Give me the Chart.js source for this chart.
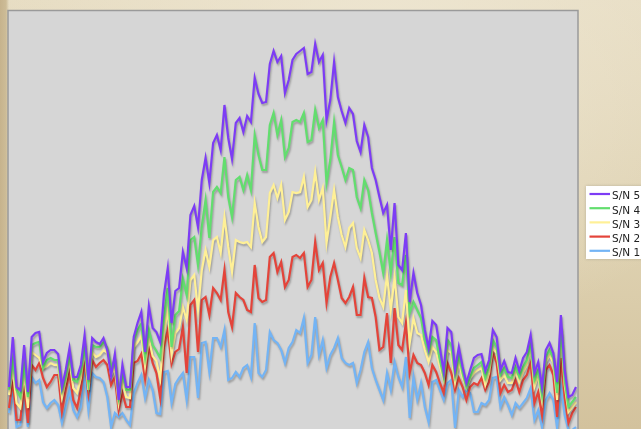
<!DOCTYPE html>
<html>
<head>
<meta charset="utf-8">
<script src="https://cdn.jsdelivr.net/npm/chart.js@4.4.0/dist/chart.umd.min.js"></script>
<style>
  html, body { margin: 0; padding: 0; width: 641px; height: 429px; overflow: hidden; }
  body {
    background-color: #e2d6b8;
    background-image:
      linear-gradient(to right, #c6b38d 0px, #cdbc97 6px, rgba(226,214,184,0) 9px),
      radial-gradient(ellipse 60% 70% at 60% 10%, rgba(238,230,210,0.9) 0%, rgba(238,230,210,0) 100%),
      linear-gradient(to bottom, #e7ddc3 0%, #ddd0af 60%, #d3c29d 100%);
  }
  canvas { display: block; }
</style>
</head>
<body>
<canvas id="chart" width="641" height="429"></canvas>
<script>
// Sample positions along the scan (151 samples)
const samples = Array.from({ length: 151 }, (_, i) => i);

const seriesNames = ['S/N 5', 'S/N 4', 'S/N 3', 'S/N 2', 'S/N 1'];
const seriesColors = ['#7d3cf5', '#62de6e', '#fff096', '#e4443a', '#73b4f5'];

const sn5 = [42,92,42,39,84,37,92,96,97,67, 76,79,79,75,42,59,81,52,52,64,
  94,49,91,87,85,91,79,53,75,29, 64,42,42,92,106,117,77,123,101,97,
  87,135,161,106,138,141,177,161,214,223, 202,249,271,246,286,294,279,324,291,270,
  306,311,297,313,307,351,335,326,327,365, 378,367,373,336,349,369,375,378,381,355,
  357,385,367,374,309,329,367,332,318,306, 321,315,288,277,304,292,261,249,232,216,
  224,179,226,164,159,196,127,156,136,124, 99,81,108,104,81,57,101,97,59,82,
  62,46,59,71,74,75,58,69,99,92, 59,68,57,56,71,58,71,77,94,56,
  67,42,79,86,76,47,114,59,32,34, 42];

const sn4 = [39,69,39,32,64,32,84,86,87,61, 69,71,69,69,39,52,74,49,47,57,
  82,46,84,82,82,87,81,62,69,32, 56,39,39,89,99,105,72,99,84,78,
  71,112,141,82,114,118,150,134,189,192, 164,202,229,191,237,242,236,272,232,212,
  249,252,239,254,239,294,274,259,259,304, 316,294,309,272,281,307,309,307,316,287,
  289,319,301,309,246,269,307,274,262,249, 261,259,232,221,249,239,216,196,177,156,
  189,156,192,146,144,174,116,127,119,111, 89,77,92,89,69,52,89,84,54,74,
  56,42,52,61,64,67,51,62,89,82, 54,61,52,51,62,52,62,69,86,49,
  59,34,72,79,71,36,102,49,22,27, 32];

const sn3 = [34,59,26,21,54,21,77,74,71,61, 63,66,64,64,32,49,69,41,36,51,
  79,39,77,72,74,79,76,54,61,26, 47,32,31,82,87,93,63,90,73,68,
  50,96,119,74,96,101,122,109,149,154, 119,159,179,162,189,192,176,212,182,157,
  189,187,186,187,182,226,202,187,192,236, 244,231,244,209,217,237,236,237,252,222,
  229,257,229,241,186,212,239,212,194,182, 201,206,181,171,199,189,176,149,131,122,
  154,119,152,112,106,139,86,111,96,94, 79,67,82,77,62,49,79,76,47,67,
  51,41,51,56,59,61,44,56,81,76, 49,54,46,46,57,47,57,64,81,42,
  54,29,67,74,66,29,96,44,17,22, 27];

const sn2 = [21,49,9,9,42,6,64,59,66,51, 42,47,54,54,17,39,56,29,21,39,
  69,36,69,62,66,69,64,44,52,19, 36,22,22,66,68,75,50,83,66,56,
  31,82,99,65,77,80,102,56,124,129, 77,129,132,114,141,136,129,159,117,102,
  136,132,129,119,117,164,131,127,129,172, 176,157,167,142,149,172,174,171,176,142,
  149,187,159,166,126,152,166,149,131,126, 132,142,114,114,151,132,131,112,79,82,
  116,66,121,84,79,106,56,74,66,64, 56,44,64,57,46,36,66,56,39,51,
  42,29,42,46,44,51,39,47,77,66, 36,44,37,39,49,37,49,54,66,26,
  37,14,59,64,54,12,71,32,6,16, 22];

const sn1 = [16,39,2,4,36,2,52,46,49,27, 21,26,29,24,6,22,39,19,12,22,
  56,19,56,52,51,47,32,2,16,12, 16,9,4,36,46,54,31,49,39,16,
  15,57,58,26,45,51,56,29,72,72, 31,86,87,57,91,91,82,99,49,51,
  57,52,61,64,52,106,56,52,59,97, 89,86,79,66,81,87,99,96,111,66,
  74,112,74,89,61,74,81,91,71,66, 64,66,46,59,77,87,61,49,39,29,
  56,39,67,52,42,72,11,52,29,46, 22,7,47,49,39,29,46,49,1,39,
  32,39,36,17,17,26,24,29,51,52, 22,32,24,14,26,21,26,31,41,9,
  19,2,29,36,29,1,42,14,-1,-1, 2];

const seriesValues = [sn5, sn4, sn3, sn2, sn1];

// Grey plotting panel with a thin frame on top and sides
const plotFrame = {
  id: 'plotFrame',
  beforeDraw(chart) {
    const c = chart.ctx, a = chart.chartArea;
    const l = a.left - 1, r = a.right + 2, t = a.top - 0.5, b = chart.height + 2;
    c.save();
    c.fillStyle = '#d6d6d6';
    c.fillRect(l, t, r - l, b - t);
    c.strokeStyle = '#9a9a9a';
    c.lineWidth = 1.5;
    c.beginPath();
    c.moveTo(l, b); c.lineTo(l, t); c.lineTo(r, t); c.lineTo(r, b);
    c.stroke();
    c.restore();
  }
};

// Soft drop shadow under every trace
const lineShadow = {
  id: 'lineShadow',
  beforeDatasetsDraw(chart) {
    const c = chart.ctx;
    c.save();
    c.shadowColor = 'rgba(0,0,0,0.28)';
    c.shadowBlur = 2;
    c.shadowOffsetX = 1;
    c.shadowOffsetY = 2;
  },
  afterDatasetsDraw(chart) {
    chart.ctx.restore();
  }
};

// Legend box to the right of the panel
const sideLegend = {
  id: 'sideLegend',
  afterDraw(chart) {
    const c = chart.ctx, a = chart.chartArea;
    const x0 = a.right + 10, y0 = 186, w = 60, h = 73, row = 14.2;
    c.save();
    c.shadowColor = 'rgba(0,0,0,0.18)';
    c.shadowBlur = 3;
    c.fillStyle = '#ffffff';
    c.fillRect(x0, y0, w, h);
    c.shadowColor = 'rgba(0,0,0,0)';
    c.shadowBlur = 0;
    c.font = '10.5px "DejaVu Sans"';
    c.textBaseline = 'alphabetic';
    chart.data.datasets.forEach((ds, i) => {
      const y = y0 + 8 + i * row;
      c.strokeStyle = ds.borderColor;
      c.lineWidth = 2.2;
      c.beginPath();
      c.moveTo(x0 + 3.5, y);
      c.lineTo(x0 + 24, y);
      c.stroke();
      c.fillStyle = '#222222';
      c.fillText(ds.label, x0 + 26, y + 5.4);
    });
    c.restore();
  }
};

new Chart(document.getElementById('chart'), {
  type: 'line',
  data: {
    labels: samples,
    datasets: seriesNames.map((name, k) => ({
      label: name,
      data: seriesValues[k],
      borderColor: seriesColors[k],
      backgroundColor: seriesColors[k],
      borderWidth: 2.2,
      pointRadius: 0,
      tension: 0,
      fill: false
    }))
  },
  options: {
    responsive: false,
    animation: false,
    devicePixelRatio: 1,
    layout: { padding: { left: 9, right: 65, top: 11, bottom: 0 } },
    scales: {
      x: { display: false },
      y: { display: false, min: 0, max: 418 }
    },
    plugins: {
      legend: { display: false },
      tooltip: { enabled: false }
    }
  },
  plugins: [plotFrame, lineShadow, sideLegend]
});
</script>
</body>
</html>
